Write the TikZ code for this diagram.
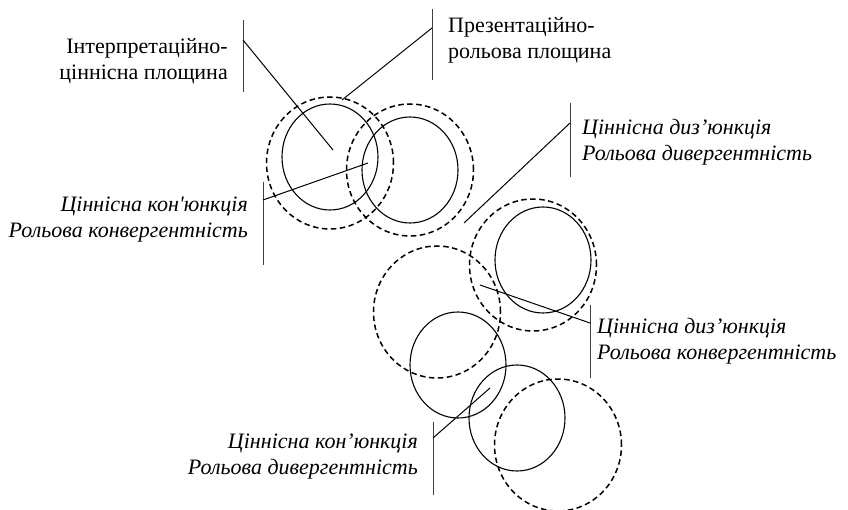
\documentclass[tikz,border=0pt]{standalone}
\usepackage{fontspec}
\setmainfont{Liberation Serif}
\newfontfamily\lblfont{Liberation Serif}
\usetikzlibrary{shapes.geometric}
\tikzset{
    plane/.style={
        ellipse, draw, line width=1.1pt,
        inner sep=0pt,
        minimum width=96pt, minimum height=106pt
    },
    role/.style={
        ellipse, draw, line width=1.5pt,
        dash pattern=on 5.5pt off 3.5pt,
        inner sep=0pt,
        minimum width=127pt, minimum height=132pt
    },
    bar/.style={draw=black!75, line width=1pt},
    lead/.style={line width=1pt},
    lbl/.style={inner sep=0pt, font=\lblfont\fontsize{22}{26}\selectfont},
    ilbl/.style={lbl, font=\lblfont\itshape\fontsize{22}{26}\selectfont},
}
\begin{document}
\begin{tikzpicture}[x=1pt, y=-1pt]
        \useasboundingbox (0,0) rectangle (848,510);

        % top pair
        \node[plane] (c1) at (330,157) {};
        \node[role]  (r1) at (330,163) {};
        \node[plane] (c2) at (410,170) {};
        \node[role]  (r2) at (410,170) {};

        % right pair
        \node[plane] (c3) at (543,260) {};
        \node[role]  (r3) at (533,265) {};
        \node[role]  (r4) at (437,312) {};

        % bottom pair
        \node[plane] (c4) at (458,365) {};
        \node[plane] (c5) at (517,418) {};
        \node[role]  (r5) at (558,445) {};

        % bars
        \foreach \n/\x/\yt/\yb/\yj in {1/243/20/92/40, 2/432/9/80/28,
                3/263/182/265/200, 4/570/103/177/123,
                5/590/305/378/323, 6/433/422/495/438} {
            \coordinate (t\n) at (\x,\yt);
            \coordinate (b\n) at (\x,\yb);
            \coordinate (j\n) at (\x,\yj);
            \draw[bar] (t\n) -- (b\n);
        }

        \coordinate (p1) at (333,150);
        \coordinate (p2) at (342,100);
        \coordinate (p3) at (368,163);
        \coordinate (p4) at (464,223);
        \coordinate (p5) at (480,285);
        \coordinate (p6) at (490,388);

        \foreach \n in {1,...,6}
            \draw[lead] (j\n) -- (p\n);

        \node[lbl, align=right, anchor=east] (l1) at (228,61)
            {Інтерпретаційно-\\ціннісна площина};
        \node[lbl, align=left, anchor=west] (l2) at (448,40)
            {Презентаційно-\\рольова площина};
        \node[ilbl, align=right, anchor=east] (l3) at (248,220)
            {Ціннісна кон{\char"0027}юнкція\\Рольова конвергентність};
        \node[ilbl, align=left, anchor=west] (l4) at (582,142)
            {Ціннісна диз’юнкція\\Рольова дивергентність};
        \node[ilbl, align=left, anchor=west] (l5) at (597,341)
            {Ціннісна диз’юнкція\\Рольова конвергентність};
        \node[ilbl, align=right, anchor=east] (l6) at (418,457)
            {Ціннісна кон’юнкція\\Рольова дивергентність};
\end{tikzpicture}
\end{document}
